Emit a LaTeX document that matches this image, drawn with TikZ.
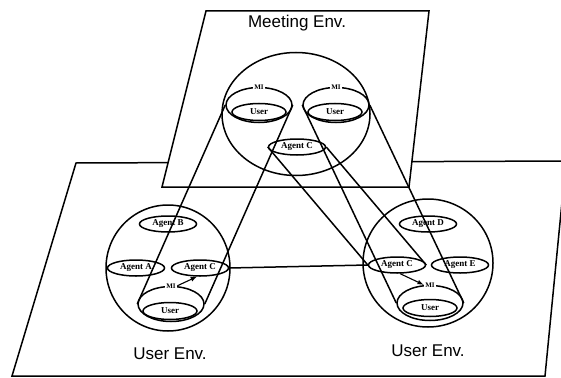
\documentclass[tikz,border=0pt]{standalone}
\usepackage{fontspec}
\setmainfont{Liberation Serif}
\newfontfamily\envfont{Liberation Sans}
\usetikzlibrary{arrows,shapes.geometric}

\begin{document}
\begin{tikzpicture}[x=1pt, y=-1pt, line width=1.5pt,
  env/.style={ellipse, draw, inner sep=0pt},
  agent/.style={ellipse, draw, inner sep=0pt, minimum width=57pt, minimum height=16pt, font=\bfseries\fontsize{9}{9}\selectfont},
  mi/.style={ellipse, draw, inner sep=0pt, minimum width=66pt, minimum height=35pt},
  user/.style={ellipse, draw, inner sep=0pt, minimum width=54pt, minimum height=17pt, font=\bfseries\fontsize{9}{9}\selectfont},
  milabel/.style={fill=white, inner sep=1pt, font=\bfseries\fontsize{7}{7}\selectfont},
  title/.style={font=\envfont\fontsize{17}{17}\selectfont}]
\clip (0,0) rectangle (561,377);

% the two planes
\draw (76,163)--(566,161)--(545,376)--(12,376)--cycle;
\filldraw[fill=white] (206,11)--(429,11)--(409,187)--(162,187)--cycle;

% meeting environment
\node[title] (mtitle) at (297,23) {Meeting Env.};
\node[env, minimum width=148pt, minimum height=123pt] (mtg) at (296,114) {};
\node[mi] (mmia) at (259,105) {};
\node[user] (musera) at (259,112) {User};
\node[mi] (mmib) at (336,105) {};
\node[user] (muserb) at (335,112) {User};
\node[agent] (mac) at (297,147) {Agent C};

% left user environment
\node[env, minimum width=124pt, minimum height=126pt] (lenv) at (168,268) {};
\node[agent] (lab) at (168,224) {Agent B};
\node[agent] (laa) at (136,268) {Agent A};
\node[agent] (lac) at (200,268) {Agent C};
\node[mi] (lmi) at (171,304) {};
\node[user] (luser) at (170,311) {User};
\node[title] (ltitle) at (170,354) {User Env.};

% right user environment
\node[env, minimum width=130pt, minimum height=128pt] (renv) at (428,263) {};
\node[agent] (rad) at (428,224) {Agent D};
\node[agent] (rac) at (397,265) {Agent C};
\node[agent] (rae) at (460,265) {Agent E};
\node[mi] (rmi) at (430,303) {};
\node[user] (ruser) at (430,308) {User};
\node[title] (rtitle) at (428,351) {User Env.};

% projections into the meeting
\draw (lmi.west)--(mmia.west);
\draw (lmi.east)--(mmia.east);
\draw (rmi.west)--(mmib.west);
\draw (rmi.east)--(mmib.east);
\draw (mac.west)--(rac.west);
\draw (mac.east)--(rac.east);
\draw (lac.east)--(rac.west);

% MI labels and their links to agent C
\node[milabel] (mmial) at (mmia.north) {MI};
\node[milabel] (mmibl) at (mmib.north) {MI};
\node[milabel] (lmil) at (lmi.north) {MI};
\node[milabel] (rmil) at (rmi.north) {MI};
\draw[-latex, line width=1.1pt] (lmil.east)--(lac.250);
\draw[-latex, line width=1.1pt] (rac.290)--(rmil.west);
\end{tikzpicture}
\end{document}
